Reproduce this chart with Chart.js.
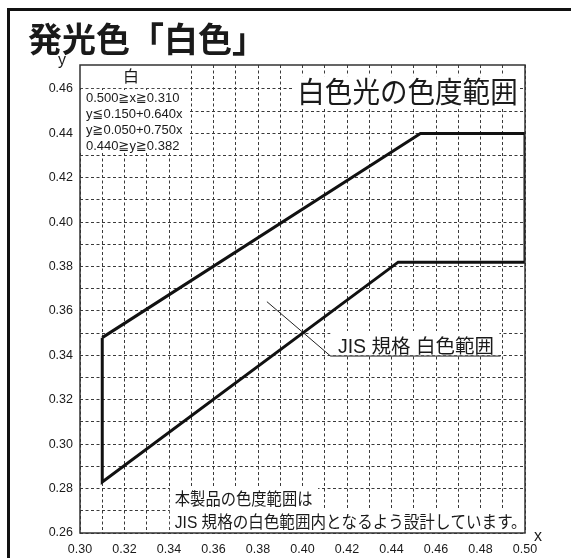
<!DOCTYPE html>
<html><head><meta charset="utf-8">
<script src="https://cdn.jsdelivr.net/npm/chart.js@4/dist/chart.umd.min.js"></script>
<style>html,body{margin:0;padding:0;background:#fff}#wrap{width:571px;height:558px;position:relative}</style>
</head><body><div id="wrap"><canvas id="c"></canvas></div>
<script>
// ---- data ----
const jisX = [0.310, 0.453, 0.500, 0.500, 0.443, 0.310, 0.310];
const jisY = [0.348, 0.440, 0.440, 0.382, 0.382, 0.283, 0.348];
const leaderX = [0.384, 0.4126, 0.489];
const leaderY = [0.3642, 0.3397, 0.3397];
const xTickValues = [0.30, 0.32, 0.34, 0.36, 0.38, 0.40, 0.42, 0.44, 0.46, 0.48, 0.50];
const yTickValues = [0.26, 0.28, 0.30, 0.32, 0.34, 0.36, 0.38, 0.40, 0.42, 0.44, 0.46];
const conditionLines = ['0.500≧x≧0.310', 'y≦0.150+0.640x', 'y≧0.050+0.750x', '0.440≧y≧0.382'];
const headerText = '発光色「白色」';
const titleText = '白色光の色度範囲';
const jisLabel = 'JIS 規格 白色範囲';
const noteLines = ['本製品の色度範囲は', 'JIS 規格の白色範囲内となるよう設計しています。'];

const LAT = '"Liberation Sans","DejaVu Sans","Noto Sans CJK JP",sans-serif';
const MIX = '"Liberation Sans","Noto Sans CJK JP",sans-serif';
const CJK = '"Noto Sans CJK JP","Liberation Sans",sans-serif';
const INK = '#1a1a1a';

function isLabelled(v, list){ return list.some(t => Math.abs(t - v) < 1e-6); }

function txt(ctx, s, x, y, font, align, sx){
  ctx.save(); ctx.font = font; ctx.fillStyle = INK; ctx.textAlign = align || 'left';
  ctx.textBaseline = 'middle'; ctx.translate(x, y); ctx.scale(sx || 1, 1);
  ctx.fillText(s, 0, 0); ctx.restore();
}

const annot = {
  id: 'annot',
  beforeDatasetsDraw(chart){
    const ctx = chart.ctx, xs = chart.scales.x, ys = chart.scales.y;
    const px = v => xs.getPixelForValue(v), py = v => ys.getPixelForValue(v);
    const ca = chart.chartArea;
    ctx.save();
    ctx.fillStyle = '#fff';
    // white boxes behind texts
    ctx.fillRect(ca.left, ca.top, px(0.3493) - ca.left, py(0.4604) - ca.top);
    ctx.fillRect(ca.left, py(0.4592), px(0.3493) - ca.left, py(0.4318) - py(0.4592));
    ctx.fillRect(px(0.3955), py(0.4658), px(0.4970) - px(0.3955), py(0.4510) - py(0.4658));
    ctx.fillRect(px(0.4126), py(0.3510), px(0.4885) - px(0.4126), py(0.3400) - py(0.3510));
    ctx.fillRect(px(0.3404), py(0.2810), px(0.4070) - px(0.3404), py(0.2695) - py(0.2810));
    ctx.fillRect(px(0.3404), py(0.2705), ca.right - px(0.3404), ca.bottom - py(0.2705));
    ctx.restore();
    // texts
    txt(ctx, '白', px(0.3229), py(0.4658), '16px ' + CJK, 'center');
    const lineY = [0.4557, 0.4485, 0.4413, 0.4341];
    conditionLines.forEach((s, i) => txt(ctx, s, px(0.3027), py(lineY[i]), '13px ' + LAT, 'left'));
    txt(ctx, titleText, px(0.4472), py(0.4588), '29px ' + CJK, 'center', 0.95);
    txt(ctx, jisLabel, px(0.4159), py(0.3433), '19.5px ' + MIX, 'left');
    txt(ctx, noteLines[0], px(0.3426), py(0.2753), '17px ' + CJK, 'left', 0.9);
    txt(ctx, noteLines[1], px(0.3426), py(0.2643), '17px ' + MIX, 'left', 0.915);
  },
  afterDraw(chart){
    const ctx = chart.ctx, ca = chart.chartArea;
    ctx.save();
    // plot frame
    ctx.strokeStyle = '#333'; ctx.lineWidth = 1.5;
    ctx.strokeRect(ca.left, ca.top, ca.right - ca.left, ca.bottom - ca.top);
    // outer frame
    ctx.strokeStyle = '#111'; ctx.lineWidth = 3;
    ctx.beginPath(); ctx.moveTo(8.5, 558); ctx.lineTo(8.5, 9.5); ctx.lineTo(571, 9.5); ctx.stroke();
    ctx.restore();
    txt(ctx, headerText, 28, 39, 'bold 34px ' + CJK, 'left');
    txt(ctx, 'y', 62, 61, '16px ' + LAT, 'center');
    txt(ctx, 'x', 538, 537, '16px ' + LAT, 'center');
  }
};

const tickFont = {family: MIX, size: 12.5};
new Chart(document.getElementById('c'), {
  type: 'scatter',
  data: {
    datasets: [
      {data: jisX.map((x, i) => ({x, y: jisY[i]})), showLine: true, borderColor: '#111', borderWidth: 3,
       pointRadius: 0, fill: false, tension: 0, borderJoinStyle: 'miter'},
      {data: leaderX.map((x, i) => ({x, y: leaderY[i]})), showLine: true, borderColor: '#222', borderWidth: 1,
       pointRadius: 0, fill: false, tension: 0}
    ]
  },
  options: {
    responsive: true, maintainAspectRatio: false, animation: false,
    layout: {padding: {left: 0, top: 65, right: 46, bottom: 0}},
    plugins: {legend: {display: false}, tooltip: {enabled: false}},
    scales: {
      x: {
        type: 'linear', min: 0.30, max: 0.50,
        afterFit: s => { s.height = 25; },
        ticks: {stepSize: 0.01, autoSkip: false, includeBounds: false, maxRotation: 0, padding: 9,
                color: INK, font: tickFont,
                callback: v => isLabelled(v, xTickValues) ? v.toFixed(2) : ''},
        grid: {color: '#3a3a3a', lineWidth: 1, drawTicks: false},
        border: {display: false, dash: [3, 2.5]}
      },
      y: {
        type: 'linear', min: 0.26, max: 0.4708,
        afterFit: s => { s.width = 80; },
        ticks: {stepSize: 0.01, autoSkip: false, includeBounds: false, padding: 7,
                color: INK, font: tickFont,
                callback: v => isLabelled(v, yTickValues) ? v.toFixed(2) : ''},
        grid: {color: c => (c.tick && c.tick.value > 0.465) ? 'rgba(0,0,0,0)' : '#3a3a3a', lineWidth: 1, drawTicks: false},
        border: {display: false, dash: [3, 2.5]}
      }
    }
  },
  plugins: [annot]
});
</script></body></html>
